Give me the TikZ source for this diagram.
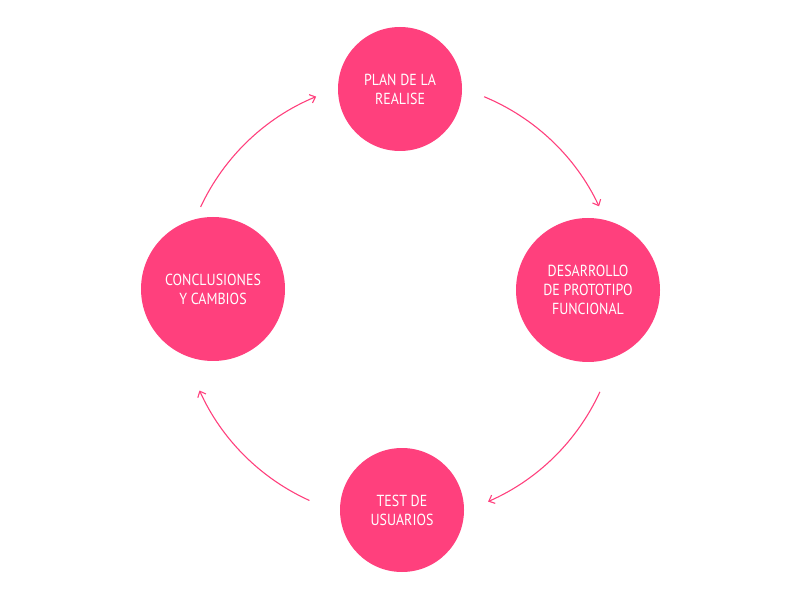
\documentclass[tikz,border=0pt]{standalone}
\usepackage{fontspec}
\setmainfont{PT Sans}[FakeStretch=0.87]
\usetikzlibrary{arrows.meta}
\definecolor{pinkc}{RGB}{255,64,125}
\tikzset{
  stage/.style={circle, fill=pinkc, text=white, align=center, inner sep=0pt,
    font=\fontsize{16}{19}\selectfont},
  cyc/.style={draw=pinkc, line width=1.1pt, -{Straight Barb[length=5pt,width=9pt]}}
}
\begin{document}
\begin{tikzpicture}[x=1pt,y=1pt]
\useasboundingbox (0,0) rectangle (800,600);
\coordinate (O) at (400,300);
\node[stage, minimum size=124pt] (plan) at (400,511) {PLAN DE LA\\REALISE};
\node[stage, minimum size=144pt] (dev) at (588,310) {DESARROLLO\\DE PROTOTIPO\\FUNCIONAL};
\node[stage, minimum size=124pt] (test) at (402,90) {TEST DE\\USUARIOS};
\node[stage, minimum size=144pt] (conc) at (213,311) {CONCLUSIONES\\Y CAMBIOS};
\draw[cyc] ([shift={(67.5:220)}]O) arc[start angle=67.5, end angle=25.2, radius=220];
\draw[cyc] ([shift={(-24.7:220)}]O) arc[start angle=-24.7, end angle=-66.4, radius=220];
\draw[cyc] ([shift={(-114.3:220)}]O) arc[start angle=-114.3, end angle=-155.7, radius=220];
\draw[cyc] ([shift={(155:220)}]O) arc[start angle=155, end angle=112.4, radius=220];
\end{tikzpicture}
\end{document}
